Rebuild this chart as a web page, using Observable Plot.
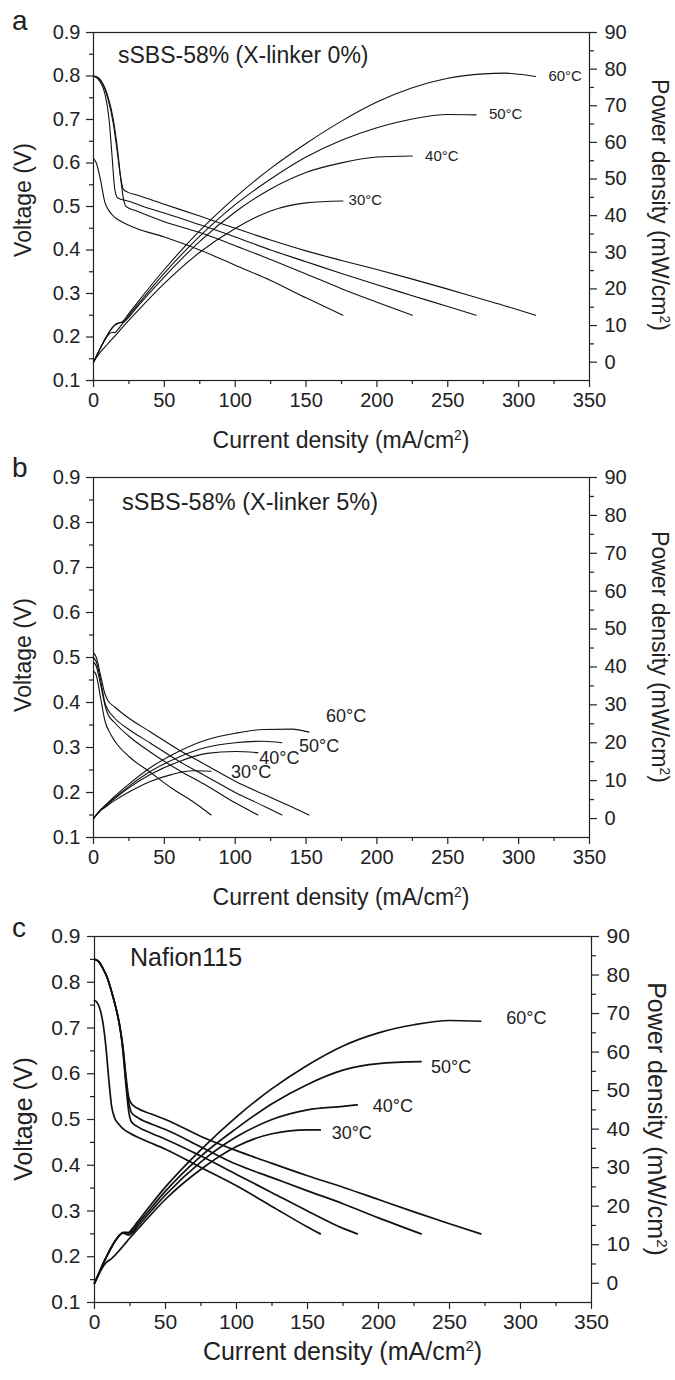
<!DOCTYPE html>
<html><head><meta charset="utf-8">
<script src="https://cdn.jsdelivr.net/npm/d3@7"></script>
<script src="https://cdn.jsdelivr.net/npm/@observablehq/plot@0.6"></script>
<style>
body{margin:0;background:#fff;}
#chart{width:675px;}
#chart svg{display:block;}
</style></head><body><div id="chart"></div>
<script>
// ---------- tick values ----------
const xMajor = [0,50,100,150,200,250,300,350];
const xMinor = [25,75,125,175,225,275,325];
const vMajor = [0.1,0.2,0.3,0.4,0.5,0.6,0.7,0.8,0.9];
const vMinor = [0.15,0.25,0.35,0.45,0.55,0.65,0.75,0.85];
const pMajor = [0,10,20,30,40,50,60,70,80,90];
const pMinor = [5,15,25,35,45,55,65,75,85];
const temps = ["30","40","50","60"];

// ---------- panel a : sSBS-58% (X-linker 0%) ----------
const a30_I = [0,2,5,8,11,15,20,30,50,75,100,125,150,176];
const a30_V = [0.61,0.60,0.56,0.51,0.49,0.475,0.465,0.45,0.43,0.40,0.365,0.33,0.29,0.25];
const a30_P = [0,1.2,2.8,4.1,5.4,7.1,9.3,13.5,21.5,30,36.5,41.3,43.5,44];
const a40_I = [0,5,10,14,17,19,21,23,30,50,75,100,125,150,175,200,225];
const a40_V = [0.80,0.79,0.755,0.70,0.63,0.57,0.52,0.50,0.49,0.465,0.44,0.41,0.378,0.345,0.311,0.28,0.25];
const a40_P = [0,4,7.6,9.8,10.7,10.8,10.9,11.5,14.7,23.3,33,41,47.3,51.8,54.4,56,56.3];
const a50_I = [0,4,8,11,13,15,17,20,25,35,50,75,100,125,150,175,200,225,250,270];
const a50_V = [0.80,0.79,0.76,0.70,0.62,0.54,0.52,0.516,0.512,0.50,0.485,0.458,0.43,0.40,0.373,0.346,0.32,0.295,0.27,0.25];
const a50_P = [0,3.2,6.1,7.7,8.1,8.1,8.8,10.3,12.8,17.5,24.3,34.4,43,50,56,60.6,64,66.4,67.6,67.5];
const a60_I = [0,3,6,10,14,17,19,21,24,30,50,75,100,125,150,175,200,225,250,275,290,300,312];
const a60_V = [0.80,0.797,0.785,0.75,0.69,0.62,0.57,0.54,0.533,0.527,0.505,0.478,0.45,0.423,0.398,0.376,0.355,0.333,0.31,0.286,0.272,0.262,0.25];
const a60_P = [0,2.4,4.7,7.5,9.7,10.5,10.8,11.3,12.8,15.8,25.3,35.9,45,52.9,59.7,65.8,71,74.9,77.5,78.7,78.9,78.6,78];
const aLabel_I = [180,234,279,321];
const aLabel_P = [44.3,56.2,67.8,78.1];

// ---------- panel b : sSBS-58% (X-linker 5%) ----------
const b30_I = [0,2,5,8,12,16,25,40,55,70,83];
const b30_V = [0.47,0.46,0.41,0.36,0.33,0.31,0.28,0.245,0.21,0.18,0.15];
const b30_P = [0,0.9,2.1,2.9,4,5,7,9.8,11.6,12.6,12.5];
const b40_I = [0,2,5,8,10,15,25,40,60,80,100,116];
const b40_V = [0.49,0.48,0.44,0.395,0.375,0.355,0.325,0.29,0.25,0.215,0.177,0.15];
const b40_P = [0,1.0,2.2,3.2,3.8,5.3,8.1,11.6,15,17.2,17.7,17.4];
const b50_I = [0,2,5,8,10,15,25,40,60,80,100,120,133];
const b50_V = [0.50,0.49,0.45,0.40,0.385,0.365,0.34,0.31,0.27,0.235,0.20,0.17,0.15];
const b50_P = [0,1.0,2.3,3.2,3.9,5.5,8.5,12.4,16.2,18.8,20,20.4,20];
const b60_I = [0,2,5,8,10,15,25,40,60,80,100,120,140,152];
const b60_V = [0.51,0.50,0.46,0.42,0.405,0.39,0.365,0.335,0.295,0.26,0.225,0.196,0.168,0.15];
const b60_P = [0,1.0,2.3,3.4,4.1,5.9,9.1,13.4,17.7,20.8,22.5,23.5,23.6,22.8];
const bLabel_I = [97,117,145,164];
const bLabel_P = [12.1,15.8,19.0,27.0];

// ---------- panel c : Nafion115 ----------
const c30_I = [0,2,4,6,8,10,12,14,17,20,25,35,50,75,100,125,150,159];
const c30_V = [0.76,0.755,0.74,0.71,0.66,0.59,0.53,0.505,0.49,0.48,0.47,0.455,0.435,0.395,0.355,0.31,0.265,0.25];
const c30_P = [0,1.5,3,4.3,5.3,5.9,6.4,7.1,8.3,9.6,11.8,15.9,21.8,29.6,35.5,38.8,39.8,39.8];
const c40_I = [0,3,6,9,12,15,18,20,22,24,26,30,40,50,75,100,125,150,175,185];
const c40_V = [0.85,0.845,0.83,0.81,0.78,0.745,0.70,0.65,0.58,0.52,0.495,0.485,0.47,0.457,0.42,0.38,0.34,0.30,0.262,0.25];
const c40_P = [0,2.5,5.0,7.3,9.4,11.2,12.6,13,12.8,12.5,12.9,14.6,18.8,22.9,31.5,38,42.5,45,45.9,46.3];
const c50_I = [0,3,6,9,12,15,18,20,22,24,26,30,40,50,75,100,125,150,175,200,230];
const c50_V = [0.85,0.845,0.83,0.81,0.78,0.745,0.70,0.655,0.59,0.54,0.515,0.505,0.49,0.478,0.44,0.402,0.373,0.344,0.316,0.285,0.25];
const c50_P = [0,2.5,5.0,7.3,9.4,11.2,12.6,13.1,13.0,13.0,13.4,15.2,19.6,23.9,33,40.2,46.6,51.6,55.3,57,57.5];
const c60_I = [0,3,6,9,12,15,18,20,22,24,26,30,40,50,75,100,125,150,175,200,225,250,272];
const c60_V = [0.85,0.845,0.83,0.81,0.78,0.745,0.70,0.66,0.60,0.55,0.535,0.525,0.512,0.50,0.463,0.432,0.404,0.377,0.352,0.325,0.298,0.272,0.25];
const c60_P = [0,2.5,5.0,7.3,9.4,11.2,12.6,13.2,13.2,13.2,13.9,15.8,20.5,25,34.7,43.2,50.5,56.6,61.6,65,67.1,68.2,68];
const cLabel_I = [167,196,237,290];
const cLabel_P = [38.9,46.0,56.0,68.8];

// ---------- helpers ----------
const FONT = "'Liberation Sans', Arial, Helvetica, sans-serif";
const vDom = [0.1, 0.9], pDom = [-5, 90];
const toV = p => vDom[0] + (p - pDom[0]) * (vDom[1] - vDom[0]) / (pDom[1] - pDom[0]);
const fromV = v => pDom[0] + (v - vDom[0]) * (pDom[1] - pDom[0]) / (vDom[1] - vDom[0]);

function rows(sets, key) {
  const out = [];
  sets.forEach((s, k) => s[0].forEach((c, i) => out.push({I: c, val: s[key][i], T: temps[k]})));
  return out;
}
function labelRows(Is, Ps) { return Is.map((c, i) => ({I: c, P: Ps[i], T: temps[i]})); }

function addText(svg, o) {
  const t = d3.select(svg).append("text")
    .attr("font-family", FONT).attr("font-size", o.size).attr("fill", "#222")
    .attr("text-anchor", o.anchor || "start")
    .attr("transform", `translate(${o.x},${o.y})` + (o.rotate ? ` rotate(${o.rotate})` : ""));
  (Array.isArray(o.text) ? o.text : [[o.text, 0]]).forEach(([s, sup], i, arr) => {
    const sp = t.append("tspan").text(s);
    if (sup) sp.attr("font-size", o.size * 0.6).attr("dy", -o.size * 0.36);
    else if (i > 0 && arr[i - 1][1]) sp.attr("dy", o.size * 0.36);
  });
}

function panel(cfg) {
  const sets = cfg.sets;
  const svg = Plot.plot({
    width: 675, height: cfg.height,
    marginTop: cfg.mt, marginBottom: cfg.mb, marginLeft: cfg.ml, marginRight: cfg.mr,
    x: {domain: [0, 350]},
    y: {domain: vDom},
    style: {fontFamily: FONT, fontSize: cfg.tick + "px", color: "#222", background: "white", overflow: "visible"},
    marks: [
      Plot.axisX({ticks: xMajor, tickSize: 7, tickPadding: 5, label: null, strokeWidth: 1.2}),
      Plot.axisX({ticks: xMinor, tickSize: 4, tickFormat: () => "", label: null, strokeWidth: 1.2}),
      Plot.axisY({ticks: vMajor, anchor: "left", tickSize: 7, tickPadding: cfg.padL, tickFormat: d3.format(".1f"), label: null, strokeWidth: 1.2}),
      Plot.axisY({ticks: vMinor, anchor: "left", tickSize: 4, tickFormat: () => "", label: null, strokeWidth: 1.2}),
      Plot.axisY({ticks: pMajor.map(toV), anchor: "right", tickSize: 7, tickPadding: cfg.padR, tickFormat: d => String(Math.round(fromV(d))), label: null, strokeWidth: 1.2}),
      Plot.axisY({ticks: pMinor.map(toV), anchor: "right", tickSize: 4, tickFormat: () => "", label: null, strokeWidth: 1.2}),
      Plot.frame({stroke: "#222", strokeWidth: 1.2}),
      Plot.line(rows(sets, 1), {x: "I", y: "val", z: "T", curve: "monotone-x", stroke: "#111", strokeWidth: cfg.lw}),
      Plot.line(rows(sets, 2), {x: "I", y: d => toV(d.val), z: "T", curve: "monotone-x", stroke: "#111", strokeWidth: cfg.lw}),
      Plot.text(labelRows(cfg.labI, cfg.labP), {x: "I", y: d => toV(d.P), text: d => d.T + "°C", textAnchor: "start", fontSize: cfg.labSize, fill: "#222"})
    ]
  });
  const cx = (cfg.ml + 675 - cfg.mr) / 2;
  addText(svg, {x: 12, y: cfg.letterY, text: cfg.letter, size: 28});
  addText(svg, {x: cfg.annX, y: cfg.annY, text: cfg.ann, size: cfg.annSize});
  addText(svg, {x: cx, y: cfg.xlabY, text: [["Current density (mA/cm", 0], ["2", 1], [")", 0]], size: cfg.title, anchor: "middle"});
  addText(svg, {x: cfg.vlabX, y: cfg.vlabY, text: "Voltage (V)", size: cfg.title, anchor: "middle", rotate: -90});
  addText(svg, {x: cfg.plabX, y: cfg.plabY, text: [["Power density (mW/cm", 0], ["2", 1], [")", 0]], size: cfg.title, anchor: "middle", rotate: 90});
  return svg;
}

const root = document.getElementById("chart");
root.appendChild(panel({
  height: 455, mt: 32, mb: 75, ml: 93, mr: 86, tick: 20, padL: 6, padR: 8, lw: 1.1,
  sets: [[a30_I,a30_V,a30_P],[a40_I,a40_V,a40_P],[a50_I,a50_V,a50_P],[a60_I,a60_V,a60_P]],
  labI: aLabel_I, labP: aLabel_P, labSize: 15,
  letter: "a", letterY: 30, ann: "sSBS-58% (X-linker 0%)", annX: 118, annY: 63, annSize: 23,
  title: 23, xlabY: 448, vlabX: 31, vlabY: 200, plabX: 652, plabY: 205
}));
root.appendChild(panel({
  height: 460, mt: 22, mb: 78, ml: 93, mr: 86, tick: 20, padL: 6, padR: 8, lw: 1.1,
  sets: [[b30_I,b30_V,b30_P],[b40_I,b40_V,b40_P],[b50_I,b50_V,b50_P],[b60_I,b60_V,b60_P]],
  labI: bLabel_I, labP: bLabel_P, labSize: 18,
  letter: "b", letterY: 22, ann: "sSBS-58% (X-linker 5%)", annX: 122, annY: 55, annSize: 23.5,
  title: 23, xlabY: 450, vlabX: 31, vlabY: 200, plabX: 652, plabY: 202
}));
root.appendChild(panel({
  height: 465, mt: 21, mb: 78, ml: 94, mr: 84, tick: 21, padL: 7, padR: 8, lw: 1.7,
  sets: [[c30_I,c30_V,c30_P],[c40_I,c40_V,c40_P],[c50_I,c50_V,c50_P],[c60_I,c60_V,c60_P]],
  labI: cLabel_I, labP: cLabel_P, labSize: 18,
  letter: "c", letterY: 22, ann: "Nafion115", annX: 130, annY: 51, annSize: 25,
  title: 25, xlabY: 445, vlabX: 32, vlabY: 204, plabX: 648, plabY: 204
}));
</script></body></html>
